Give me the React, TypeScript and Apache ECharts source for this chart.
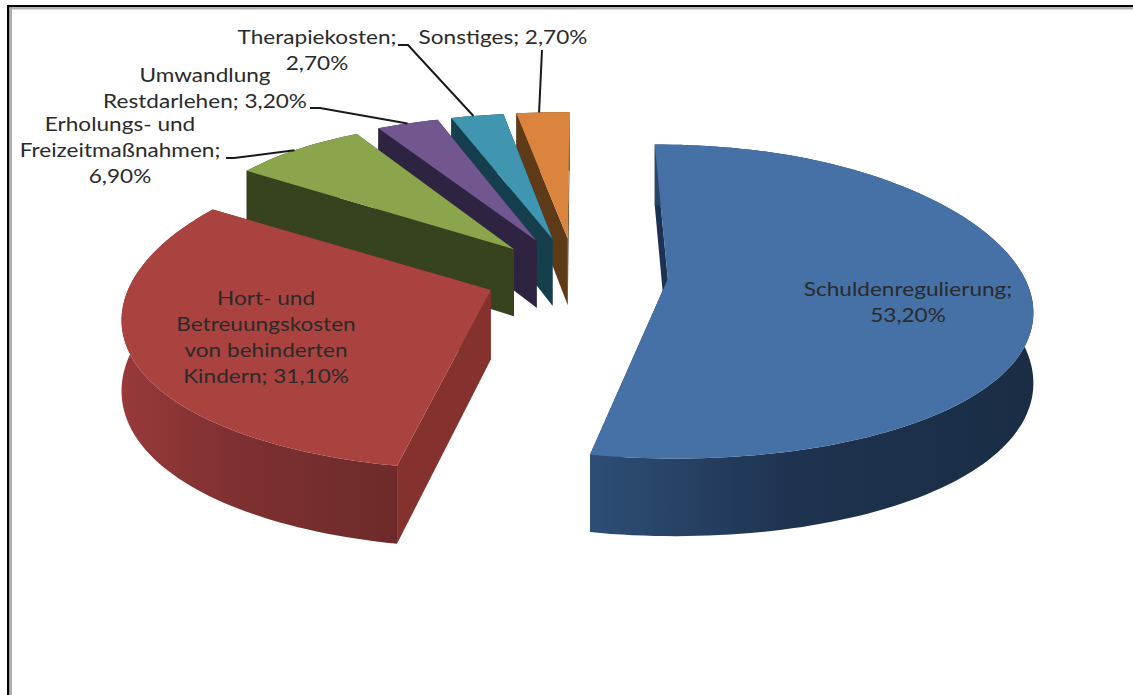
import React, { useEffect, useRef } from "react";
import * as echarts from "echarts";

// ---- data ----
const categories = [
  "Schuldenregulierung",
  "Hort- und Betreuungskosten von behinderten Kindern",
  "Erholungs- und Freizeitmaßnahmen",
  "Umwandlung Restdarlehen",
  "Therapiekosten",
  "Sonstiges",
];
const shares = [53.2, 31.1, 6.9, 3.2, 2.7, 2.7];
const labelLines = [
  ["Schuldenregulierung;", "{v}"],
  ["Hort- und", "Betreuungskosten", "von behinderten", "Kindern; {v}"],
  ["Erholungs- und", "Freizeitmaßnahmen;", "{v}"],
  ["Umwandlung", "Restdarlehen; {v}"],
  ["Therapiekosten;", "{v}"],
  ["Sonstiges; {v}"],
];

// ---- styles ----
const topColors = ["#4571a7", "#aa4340", "#8aa54c", "#71568f", "#4096b0", "#db843d"];
const edgeColors = ["#1c3252", "#85322f", "#37421e", "#2f2342", "#163f4e", "#5e3a19"];
const wallFrom = ["#2e4e76", "#98393a", "#37421e", "#2f2342", "#163f4e", "#5e3a19"];
const wallMid = ["#1e3350", "#7e3130", "#37421e", "#2f2342", "#163f4e", "#5e3a19"];
const wallTo = ["#1a2d44", "#6e2a2a", "#37421e", "#2f2342", "#163f4e", "#5e3a19"];
const wallMidAt = [0.45, 0.4, 0.5, 0.5, 0.5, 0.5];
const explodeYFactor = [1, 0.65, 1, 1, 1, 1];
const radiusX = [0.993, 0.995, 0.98, 0.98, 0.98, 0.98];
const radiusY = [1, 1.02, 0.98, 0.98, 0.98, 0.98];
const apexShift: number[][] = [[4, -11], [-3, -6.5], [-3, -2], [-3, -2], [-2, -1], [-1, 0]];
const labelAnchors: number[][] = [[908, 289], [266, 298], [120, 124], [205, 75], [317, 37], [503, 37]];
const leaderStarts: (number[][] | null)[] = [
  null,
  null,
  [[226, 158], [234, 158]],
  [[310, 108], [320, 108]],
  [[398, 45], [408, 45]],
  [[542, 50]],
];

const CX = 576, CY = 285, R = 367, S = 157, EX = 88, EY = 47.4, KX = 0.115, KY = 0.07, D = 69;
const total = shares.reduce((a, b) => a + b, 0);
const pct = (v: number) => v.toFixed(2).replace(".", ",") + "%";

function project(x: number, yn: number, down: boolean): number[] {
  const sx = CX + x / (1 - KX * yn);
  let sy = CY + S * yn * (1 + KY * yn);
  if (yn < -0.8) sy += 44 * (yn + 0.8) * (yn + 0.8);
  if (down) sy += D * (1 + 0.12 * yn);
  return [sx, sy];
}

function sliceGeo(i: number) {
  let acc = 0;
  for (let k = 0; k < i; k++) acc += shares[k];
  const a0 = (acc / total) * Math.PI * 2;
  const a1 = ((acc + shares[i]) / total) * Math.PI * 2;
  const mid = (a0 + a1) / 2;
  const ax = Math.sin(mid) * EX;
  const ay = (-Math.cos(mid) * EY * explodeYFactor[i]) / S;
  const steps = Math.max(4, Math.ceil(((a1 - a0) * 180) / Math.PI / 1.5));
  const arc: number[][] = [];
  for (let s = 0; s <= steps; s++) {
    const t = a0 + ((a1 - a0) * s) / steps;
    arc.push([ax + R * radiusX[i] * Math.sin(t), ay - radiusY[i] * Math.cos(t)]);
  }
  return { ax, ay, arc, mid };
}

function renderSlice(params: any) {
  const i = params.dataIndex;
  const { ax, ay, arc } = sliceGeo(i);
  const topPts = arc.map((p) => project(p[0], p[1], false));
  const botPts = arc.map((p) => project(p[0], p[1], true));
  const shift = (p: number[]) => [p[0] + apexShift[i][0], p[1] + apexShift[i][1]];
  const apexT = shift(project(ax, ay, false));
  const apexB = shift(project(ax, ay, true));
  const base = (5 - i) * 10 + 10;
  const children: any[] = [];
  const first = topPts[0], last = topPts[topPts.length - 1];
  const fb = botPts[0], lb = botPts[botPts.length - 1];
  children.push({ type: "polygon", z2: base, shape: { points: [apexT, first, fb, apexB] }, style: { fill: edgeColors[i] } });
  children.push({ type: "polygon", z2: base, shape: { points: [apexT, last, lb, apexB] }, style: { fill: edgeColors[i] } });
  children.push({
    type: "polygon",
    z2: base + 1,
    shape: { points: [...topPts, ...botPts.slice().reverse()] },
    style: {
      fill: new echarts.graphic.LinearGradient(0, 0, 1, 0, [
        { offset: 0, color: wallFrom[i] },
        { offset: wallMidAt[i], color: wallMid[i] },
        { offset: 1, color: wallTo[i] },
      ]),
    },
  });
  children.push({ type: "polygon", z2: base + 2, shape: { points: [apexT, ...topPts] }, style: { fill: topColors[i] } });

  const starts = leaderStarts[i];
  if (starts) {
    const mid = topPts[Math.floor((topPts.length - 1) / 2)];
    children.push({
      type: "polyline",
      z2: 200,
      shape: { points: [...starts, mid] },
      style: { stroke: "#1a1a1a", lineWidth: 2, fill: "none" },
    });
  }
  const lines = labelLines[i].map((l) => l.replace("{v}", pct(shares[i])));
  children.push({
    type: "text",
    z2: 300,
    x: labelAnchors[i][0],
    y: labelAnchors[i][1] - 13,
    scaleX: 1.13,
    style: {
      x: 0,
      y: 0,
      text: lines.join("\n"),
      align: "center",
      verticalAlign: "top",
      font: "20px Lato",
      lineHeight: 26,
      fill: "#2a2a2a",
    },
  });
  return { type: "group", children };
}

export default function App() {
  const ref = useRef<HTMLDivElement>(null);
  useEffect(() => {
    document.body.style.margin = "0";
    const chart = echarts.init(ref.current!, undefined, { renderer: "svg" });
    chart.setOption({
      animation: false,
      backgroundColor: "#ffffff",
      graphic: [
        { type: "rect", shape: { x: 7, y: 5, width: 2.5, height: 690 }, style: { fill: "#000" } },
        { type: "rect", shape: { x: 9.5, y: 7, width: 2.5, height: 688 }, style: { fill: "#b0b0b0" } },
        { type: "rect", shape: { x: 7, y: 5, width: 1126, height: 2.2 }, style: { fill: "#000" } },
        { type: "rect", shape: { x: 9.5, y: 7.2, width: 1124, height: 2.3 }, style: { fill: "#b0b0b0" } },
      ],
      series: [
        {
          type: "custom",
          coordinateSystem: "none",
          silent: true,
          renderItem: renderSlice,
          data: categories.map((c, i) => ({ name: c, value: shares[i] })),
        },
      ],
    });
    return () => chart.dispose();
  }, []);
  return <div ref={ref} style={{ width: 1133, height: 695 }} />;
}
